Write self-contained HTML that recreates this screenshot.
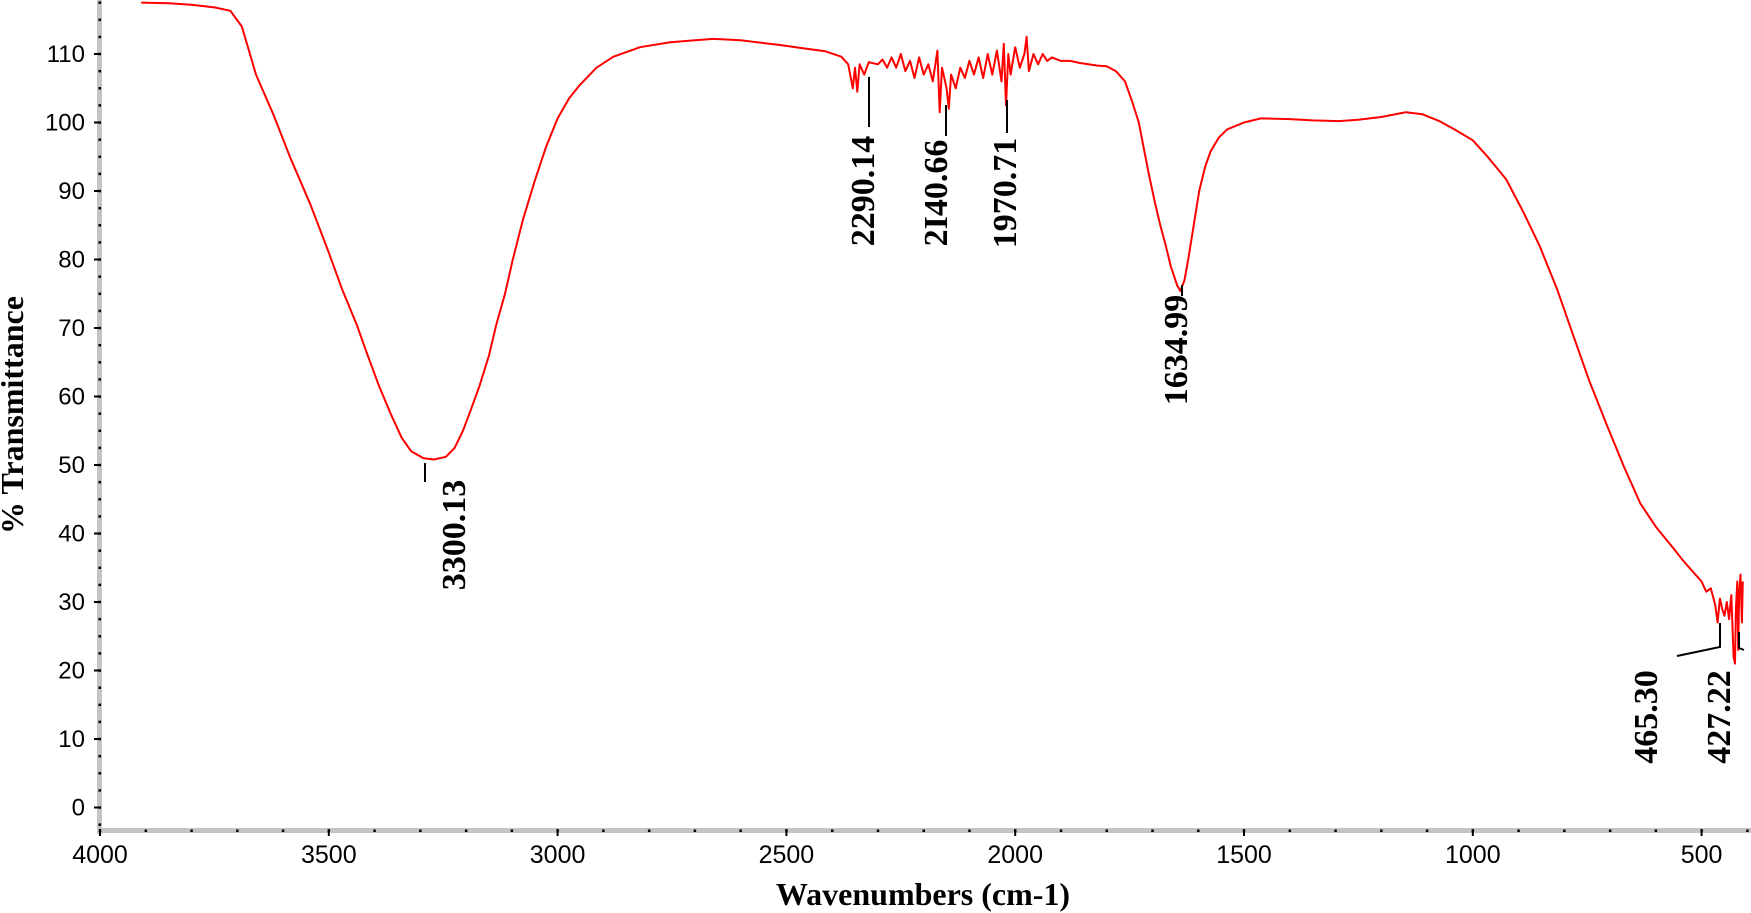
<!DOCTYPE html>
<html><head><meta charset="utf-8"><style>
html,body{margin:0;padding:0;background:#fff;}
svg{display:block;}
</style></head><body>
<svg id="chart" width="1751" height="913" viewBox="0 0 1751 913" xmlns="http://www.w3.org/2000/svg">
<g id="axes"></g>
<g id="series"></g>
<g id="peaks"></g>
<text x="923" y="905" text-anchor="middle" font-family="Liberation Serif, serif" font-weight="bold" font-size="32">Wavenumbers (cm-1)</text>
<text transform="translate(23,415) rotate(-90)" text-anchor="middle" font-family="Liberation Serif, serif" font-weight="bold" font-size="32">% Transmittance</text>
</svg>
<script>
const wavenumbers = [3910,3850,3800,3750,3715,3690,3659,3620,3585,3540,3500,3470,3439,3415,3390,3365,3341,3320,3293,3270,3244,3225,3207,3190,3171,3150,3134,3115,3098,3075,3049,3025,3000,2975,2951,2915,2878,2820,2756,2700,2659,2600,2512,2460,2415,2380,2365,2355,2350,2345,2340,2330,2320,2300,2290,2280,2270,2260,2250,2240,2230,2220,2210,2200,2190,2180,2170,2165,2160,2150,2145,2140,2130,2120,2110,2100,2090,2080,2070,2060,2050,2040,2030,2025,2020,2015,2010,2000,1990,1980,1975,1970,1960,1950,1940,1930,1920,1900,1880,1860,1840,1820,1800,1780,1760,1744,1730,1720,1708,1695,1683,1671,1660,1646,1639,1630,1622,1610,1598,1585,1573,1555,1537,1500,1463,1400,1350,1293,1250,1200,1146,1110,1073,1040,1000,965,927,890,854,815,780,745,707,670,634,600,561,540,520,500,490,480,470,465,460,455,450,445,440,435,430,427,425,422,420,418,415,412,410];
const transmittance = [117.5,117.4,117.2,116.8,116.3,114,107,101,95,88,81,75.5,70.5,66,61.5,57.5,54,52,51,50.8,51.2,52.5,55,58,61.5,66,70.5,75,80,86,91.7,96.5,100.6,103.5,105.5,108,109.6,111,111.7,112,112.2,112,111.3,110.8,110.4,109.6,108.5,105,108,104.5,108.5,107,108.8,108.5,109.2,108,109.5,108,110,107.5,109,106.5,109.5,107,108.5,106,110.5,101.5,108,105,102,107,105,108,106.5,109,107,109.5,106.5,110,107,110.5,106,111.5,102.5,110,107,111,108,110,112.5,107.5,110,108.5,110,109,109.5,109,109,108.7,108.5,108.3,108.2,107.5,106,103,100,96.6,92.5,88.4,85,82,79,76.2,75.4,77,80,85,90,93.5,95.8,97.8,99,100,100.6,100.5,100.3,100.2,100.4,100.8,101.5,101.2,100.2,99,97.4,94.8,91.7,87,82,75.5,68.8,62.2,55.8,49.8,44.4,41,37.8,36,34.5,33,31.5,32,29.5,27,30.5,29,28,30,27.5,31,22,21,29,33,23,31,34,27,33];
const yTicks = [0,10,20,30,40,50,60,70,80,90,100,110];
const xTicks = [4000,3500,3000,2500,2000,1500,1000,500];
const peakLabels = ["3300.13","2290.14","2I40.66","1970.71","1634.99","465.30","427.22"];

const NS = "http://www.w3.org/2000/svg";
const X0 = 100, PXW = 0.4576, Y0 = 807.5, PXT = 6.85;
function xs(w){ return X0 + (4000 - w) * PXW; }
function ys(t){ return Y0 - t * PXT; }
function mk(tag, attrs, parent){
  const e = document.createElementNS(NS, tag);
  for (const k in attrs) e.setAttribute(k, attrs[k]);
  parent.appendChild(e); return e;
}
const axes = document.getElementById('axes');
let yb = mk('rect', {x:97, y:0, width:5, height:834, fill:'#c4c4c4'}, axes);


let xb = mk('rect', {x:97, y:828, width:1654, height:5, fill:'#c4c4c4'}, axes);


for (let v = -5; v <= 117.5; v += 2.5) {
  const y = ys(v);
  if (y < 1 || y > 830) continue;
  const d = mk('rect', {x:98.5, y:y-1.2, width:2.5, height:2.5, fill:'#000'}, axes);
  
  
}
yTicks.forEach(v => {
  const y = ys(v);
  const t = mk('line', {x1:94, x2:101, y1:y, y2:y, stroke:'#000', 'stroke-width':2}, axes);
  
  
  const l = mk('text', {x:85, y:y+8, 'text-anchor':'end', 'font-family':'Liberation Sans, sans-serif', 'font-size':24}, axes);
  l.textContent = v;
  
  
});
for (let w = 4000; w >= 400; w -= 100) {
  const x = xs(w);
  const d = mk('rect', {x:x-1.2, y:829.5, width:2.5, height:2.5, fill:'#000'}, axes);
  
  
}
xTicks.forEach(w => {
  const x = xs(w);
  const t = mk('line', {x1:x, x2:x, y1:829, y2:836, stroke:'#000', 'stroke-width':2}, axes);
  
  
  const l = mk('text', {x:x, y:863, 'text-anchor':'middle', 'font-family':'Liberation Sans, sans-serif', 'font-size':25}, axes);
  l.textContent = w;
  
  
});
const series = document.getElementById('series');
const pts = wavenumbers.map((w,i) => xs(w).toFixed(1) + ',' + ys(transmittance[i]).toFixed(1)).join(' ');
const pl = mk('polyline', {points:pts, fill:'none', stroke:'#ff0000', 'stroke-width':2, 'stroke-linejoin':'round'}, series);


const peaks = document.getElementById('peaks');
const leaders = [
  "M425,463 L425,482", "M869,77 L869,127", "M946,105 L946,136", "M1007,100 L1007,133",
  "M1182,285 L1182,296", "M1677,656 L1720,647 L1720,623", "M1739,632 L1739,648 L1744,650"
];
const labelPos = [[453,535],[862,191],[935,193],[1004,193],[1175,350],[1645,717],[1718,717]];
peakLabels.forEach((s,i) => {
  const p = mk('path', {d:leaders[i], fill:'none', stroke:'#000', 'stroke-width':2}, peaks);
  
  
  const [cx, cy] = labelPos[i];
  const t = mk('text', {transform:`translate(${cx+12},${cy}) rotate(-90)`, 'text-anchor':'middle', 'font-family':'Liberation Serif, serif', 'font-weight':'bold', 'font-size':34}, peaks);
  t.textContent = s;
  
  
});
</script>
</body></html>
